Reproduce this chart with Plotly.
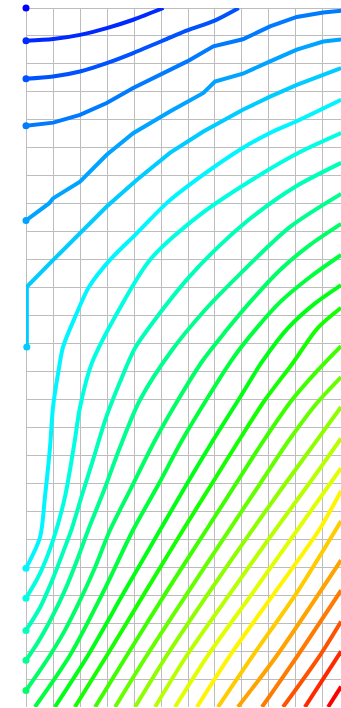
import plotly.graph_objects as go
from plotly.colors import sample_colorscale

# Contour level index (0 = top-left / lowest, 25 = bottom-right / highest)
levels = list(range(26))

# Traced iso-lines, x in grid columns (left→right), y in grid rows (top→bottom)
x00 = [0.0]
y00 = [0.0]
x01 = [0, 1.01, 2.0, 2.99, 3.97, 5.09]
y01 = [1.17, 1.11, 0.96, 0.72, 0.42, 0.0]
x02 = [0, 1.0, 2.0, 2.99, 3.97, 5.33, 5.97, 7.01, 7.88]
y02 = [2.53, 2.45, 2.27, 1.97, 1.61, 1.06, 0.80, 0.44, 0.0]
x03 = [0, 1.01, 2.0, 2.99, 3.97, 5.33, 5.97, 6.94, 8.03, 9.04, 10.03, 11.01, 11.67]
y03 = [4.21, 4.10, 3.82, 3.40, 2.86, 2.21, 1.91, 1.37, 1.12, 0.66, 0.32, 0.16, 0.10]
x04 = [0, 0.85, 1.0, 2.0, 2.99, 3.97, 5.33, 6.57, 7.0, 8.03, 9.04, 10.03, 11.01, 11.67]
y04 = [7.60, 6.99, 6.81, 6.21, 5.25, 4.48, 3.70, 3.04, 2.63, 2.35, 1.91, 1.49, 1.20, 1.13]
x05 = [0.03, 0.03, 1.01, 2.0, 2.99, 4.1, 5.33, 6.57, 8.03, 9.04, 10.03, 11.67]
y05 = [12.12, 9.97, 9.01, 8.06, 7.10, 6.15, 5.18, 4.42, 3.64, 3.17, 2.75, 2.15]
x06 = [0, 0.52, 0.70, 0.89, 1.0, 1.19, 1.37, 1.85, 2.33, 3.11, 4.11, 5.22, 6.30, 8.04, 9.04, 10.04, 11.67]
y06 = [20.04, 18.93, 17.50, 15.71, 14.28, 13.06, 12.13, 10.98, 9.98, 9.01, 8.05, 6.97, 6.15, 5.00, 4.47, 4.04, 3.28]
x07 = [0, 0.52, 1.0, 1.44, 1.78, 2.0, 2.44, 3.48, 4.59, 6.44, 8.48, 10.15, 11.67]
y07 = [21.11, 20.22, 19.04, 17.50, 15.64, 14.28, 12.70, 10.73, 9.01, 7.40, 6.08, 5.15, 4.47]
x08 = [0, 0.52, 1.0, 1.37, 1.70, 2.07, 2.48, 2.96, 3.48, 4.04, 4.96, 6.07, 7.19, 8.48, 9.96, 11.67]
y08 = [22.26, 21.44, 20.40, 19.47, 18.61, 17.43, 16.17, 14.67, 13.38, 12.16, 10.91, 9.59, 8.48, 7.40, 6.40, 5.54]
x09 = [0, 0.44, 0.96, 1.44, 1.89, 2.30, 2.89, 3.48, 4.22, 5.41, 6.63, 7.96, 9.78, 11.67]
y09 = [23.33, 22.69, 21.79, 20.83, 19.75, 18.68, 17.25, 15.71, 14.02, 12.23, 10.80, 9.48, 7.83, 6.65]
x10 = [0, 0.44, 0.89, 1.44, 2.0, 2.56, 3.11, 3.85, 4.78, 5.63, 6.56, 7.37, 8.30, 9.41, 10.52, 11.67]
y10 = [24.41, 23.80, 23.15, 22.26, 21.19, 20.00, 18.68, 17.25, 15.46, 14.02, 12.59, 11.59, 10.52, 9.37, 8.47, 7.72]
x11 = [0.33, 1.63, 2.89, 3.96, 4.89, 5.78, 6.74, 7.67, 8.48, 9.41, 10.52, 11.67]
y11 = [25.0, 23.15, 20.83, 18.68, 17.07, 15.46, 13.92, 12.52, 11.52, 10.52, 9.62, 8.83]
x12 = [1.07, 2.30, 3.63, 4.96, 5.93, 6.93, 7.93, 8.74, 9.70, 10.67, 11.67]
y12 = [25.0, 23.15, 20.90, 18.68, 17.07, 15.46, 13.92, 12.66, 11.45, 10.59, 9.91]
x13 = [1.81, 3.0, 4.41, 5.81, 6.85, 7.89, 8.85, 9.85, 10.81, 11.67]
y13 = [25.0, 23.15, 20.90, 18.68, 17.07, 15.46, 14.02, 12.74, 11.44, 10.72]
x14 = [2.56, 3.74, 5.19, 6.67, 7.74, 8.81, 9.85, 10.81, 11.67]
y14 = [25.0, 23.15, 20.90, 18.68, 17.07, 15.46, 14.02, 12.95, 12.09]
x15 = [3.30, 4.48, 6.0, 7.52, 8.63, 9.74, 10.74, 11.67]
y15 = [25.0, 23.15, 20.90, 18.68, 17.07, 15.46, 14.17, 13.20]
x16 = [4.04, 5.22, 6.78, 8.37, 9.56, 10.67, 11.67]
y16 = [25.0, 23.15, 20.90, 18.68, 17.07, 15.60, 14.27]
x17 = [4.78, 5.96, 7.59, 9.22, 10.44, 11.67]
y17 = [25.0, 23.15, 20.90, 18.68, 17.07, 15.39]
x18 = [5.52, 6.74, 8.41, 10.04, 11.67]
y18 = [25.0, 23.15, 20.90, 18.68, 16.46]
x19 = [6.33, 7.56, 9.22, 10.85, 11.67]
y19 = [25.0, 23.15, 20.90, 18.68, 17.27]
x20 = [7.11, 8.41, 10.04, 11.67]
y20 = [25.0, 23.15, 20.90, 18.35]
x21 = [7.85, 9.30, 11.67]
y21 = [25.0, 23.15, 19.75]
x22 = [8.74, 10.07, 11.67]
y22 = [25.0, 23.15, 20.83]
x23 = [9.52, 10.89, 11.67]
y23 = [25.0, 23.15, 21.94]
x24 = [10.33, 11.67]
y24 = [25.0, 23.01]
x25 = [11.19, 11.67]
y25 = [25.0, 24.27]

lines_x = [x00, x01, x02, x03, x04, x05, x06, x07, x08, x09, x10, x11, x12,
           x13, x14, x15, x16, x17, x18, x19, x20, x21, x22, x23, x24, x25]
lines_y = [y00, y01, y02, y03, y04, y05, y06, y07, y08, y09, y10, y11, y12,
           y13, y14, y15, y16, y17, y18, y19, y20, y21, y22, y23, y24, y25]

rainbow = [[0.0, "rgb(0,0,255)"], [0.25, "rgb(0,255,255)"], [0.5, "rgb(0,255,0)"],
           [0.75, "rgb(255,255,0)"], [1.0, "rgb(255,0,0)"]]
lo, hi = min(levels), max(levels)
colors = sample_colorscale(rainbow, [(v - lo) / (hi - lo) for v in levels])

fig = go.Figure()
dot_x, dot_y, dot_c = [], [], []
for lv, xs, ys, c in zip(levels, lines_x, lines_y, colors):
    if len(xs) > 1:
        fig.add_trace(go.Scatter(
            x=xs, y=ys, mode="lines",
            line=dict(color=c, width=4,
                      shape="linear" if lv in (3, 4, 5) else "spline",
                      smoothing=0.8),
            hoverinfo="skip", showlegend=False))
    if xs[0] < 0.1:
        dot_x.append(xs[0]); dot_y.append(ys[0]); dot_c.append(c)

fig.add_trace(go.Scatter(x=dot_x, y=dot_y, mode="markers",
                         marker=dict(color=dot_c, size=7),
                         cliponaxis=False, hoverinfo="skip", showlegend=False))

grid = "#bdbdbd"
fig.update_layout(
    width=341, height=708,
    margin=dict(l=26, r=0, t=8, b=1),
    paper_bgcolor="white", plot_bgcolor="white",
    hovermode=False, dragmode=False,
    xaxis=dict(range=[0, 11.667], dtick=1, tick0=0, showgrid=True, gridcolor=grid,
               gridwidth=1, zeroline=True, zerolinecolor=grid, zerolinewidth=1,
               showticklabels=False, ticks="", showline=False, fixedrange=True),
    yaxis=dict(range=[25, 0], dtick=1, tick0=0, showgrid=True, gridcolor=grid,
               gridwidth=1, zeroline=True, zerolinecolor=grid, zerolinewidth=1,
               showticklabels=False, ticks="", showline=False, fixedrange=True),
)

page_css = ("document.body.style.margin='0px';"
            "document.body.style.overflow='hidden';"
            "document.documentElement.style.overflow='hidden';")
fig.write_html("out.html", post_script=page_css,
               config={"displayModeBar": False, "staticPlot": True})
